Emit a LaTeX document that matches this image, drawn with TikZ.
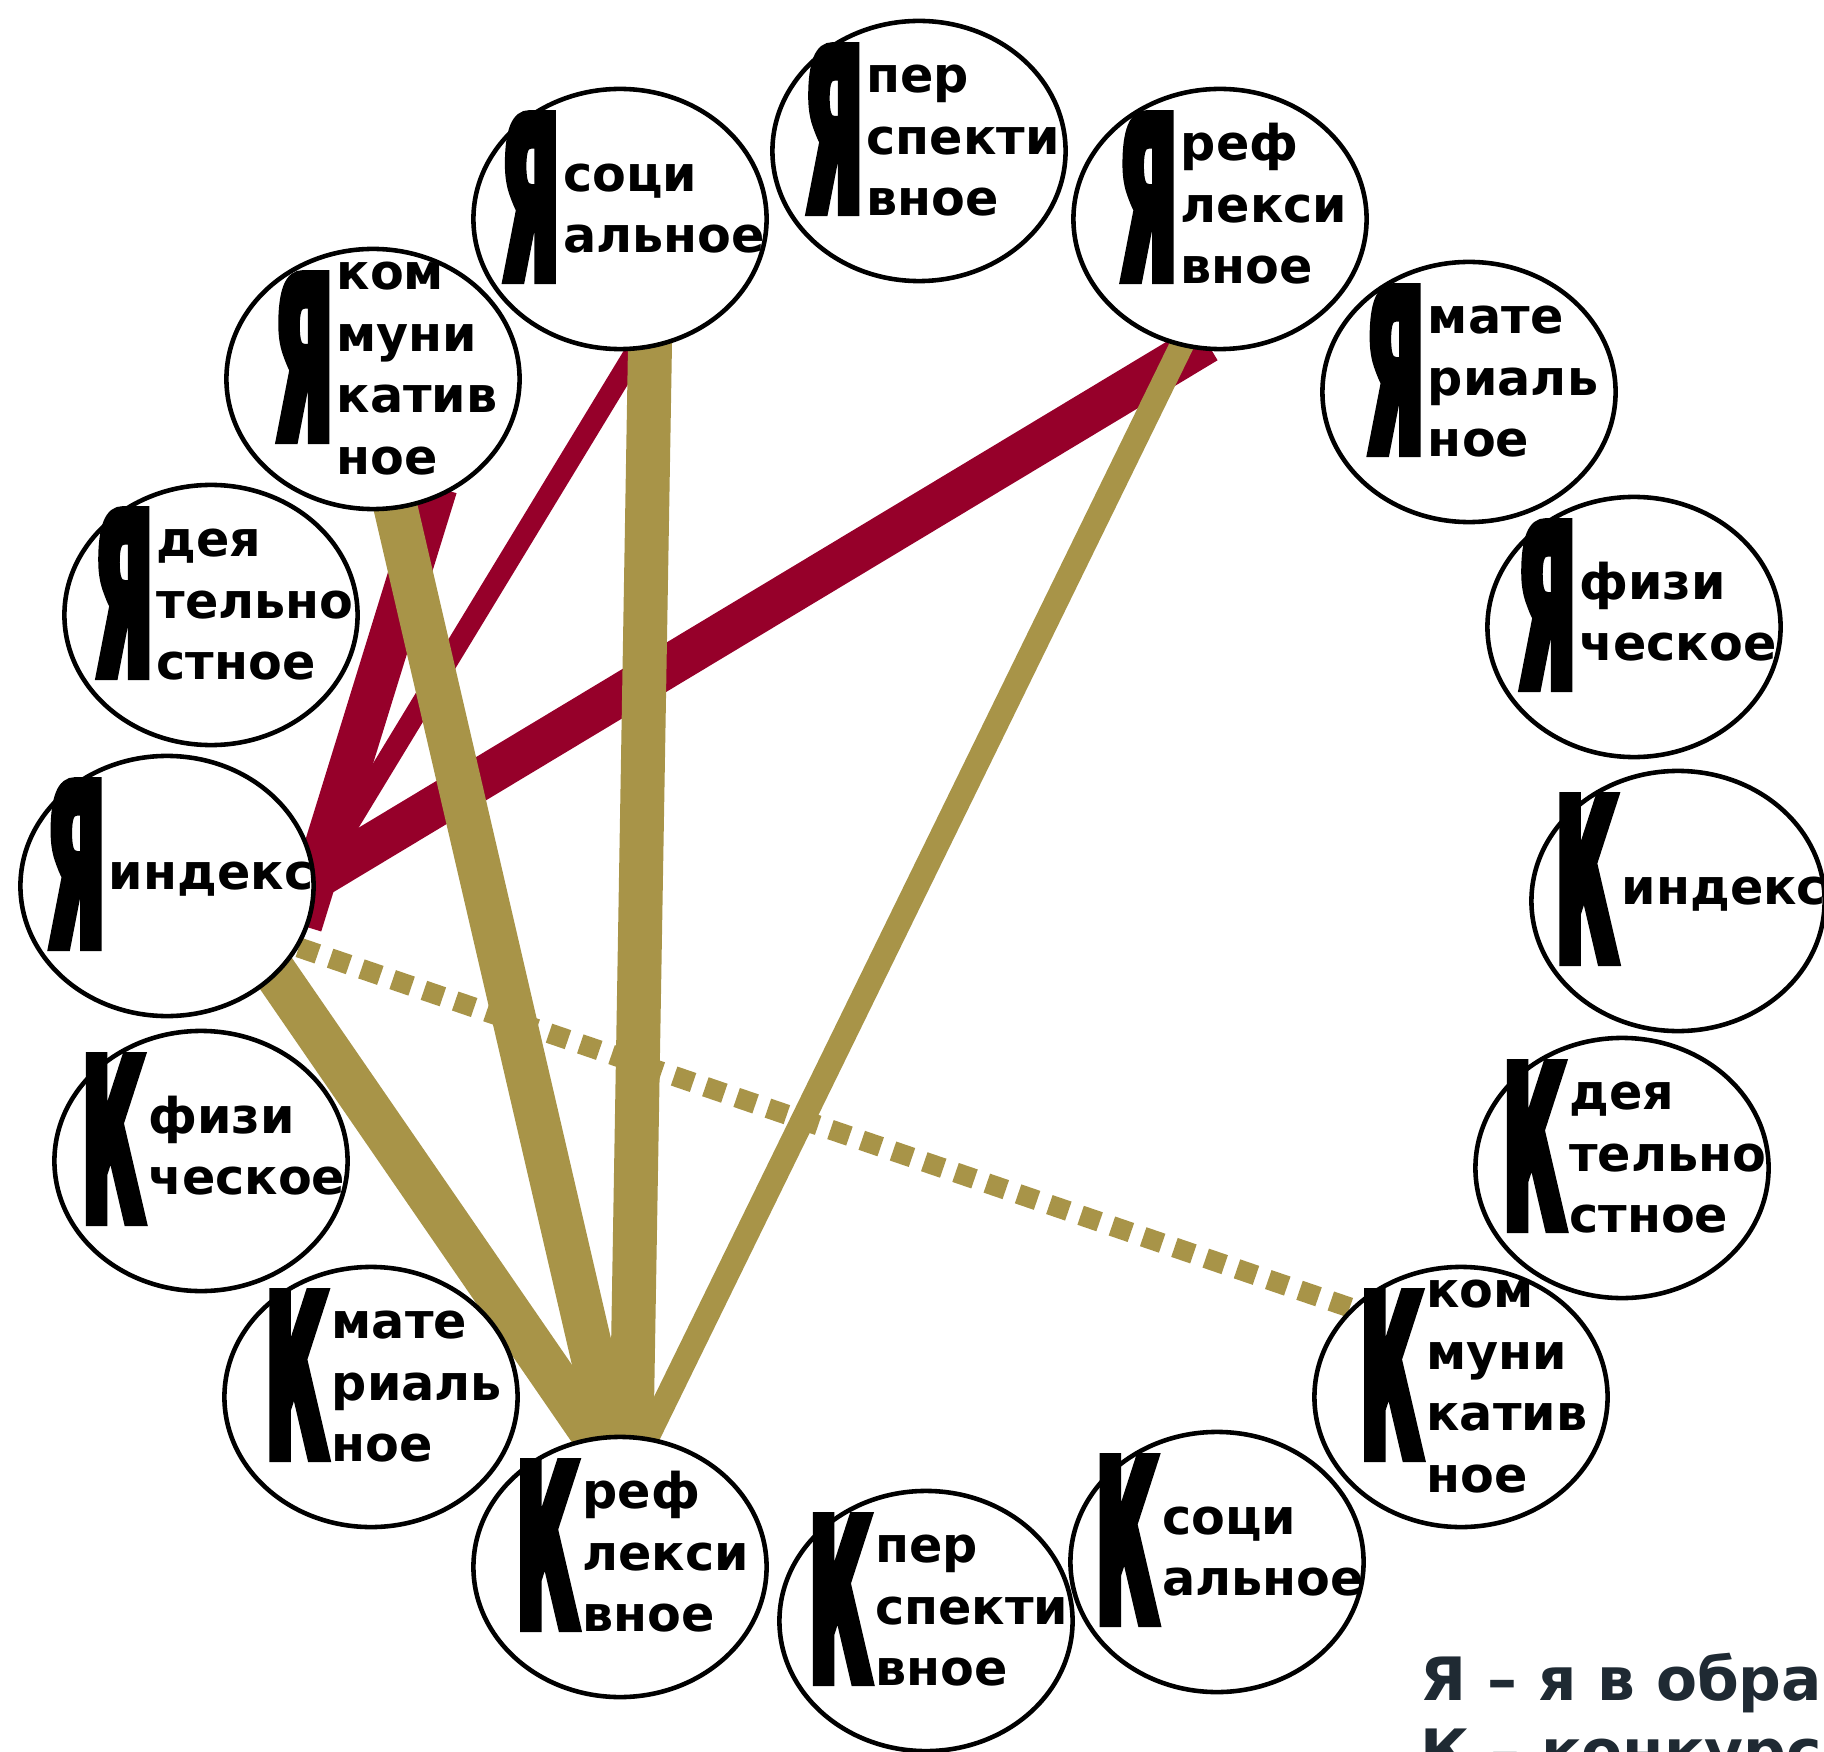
\documentclass[tikz,border=0pt]{standalone}
\usepackage{fontspec}
\setmainfont{DejaVu Sans}
\newfontfamily\capfont[FakeStretch=0.33,FakeBold=3.2]{DejaVu Sans Bold}
\usetikzlibrary{shapes.geometric,backgrounds}

\definecolor{wine}{HTML}{96002A}
\definecolor{ochre}{HTML}{A89448}
\definecolor{keyink}{HTML}{1F2A33}

% big letter + short lines, zero size so the ellipse keeps its size
\newcommand{\facet}[2]{%
  \makebox[0pt]{\smash{\hspace*{2.6mm}%
    \begin{tabular}{@{}c@{}}{\capfont\fontsize{65}{65}\selectfont #1}\end{tabular}%
    \hspace{0.4mm}%
    \raisebox{-1pt}{\begin{tabular}{@{}l@{}}#2\end{tabular}}}}}

\begin{document}
\begin{tikzpicture}[x=0.01cm,y=-0.01cm,line cap=butt]
    \tikzset{
      aspect/.style={
        ellipse,
        draw,
        fill=white,
        line width=1.3pt,
        minimum width=2.93cm,
        minimum height=2.6cm,
        inner sep=0pt,
        font=\bfseries\fontsize{14}{17.5}\selectfont
      },
      tie/.style={
        shorten <=-14pt,
        shorten >=-14pt
      },
      wideRed/.style={draw=wine, line width=12pt, shorten <=-14pt, shorten >=-4pt},
      thinRed/.style={draw=wine, line width=6pt, shorten <=-14pt, shorten >=-4pt},
      wideGold/.style={tie, draw=ochre, line width=12.5pt},
      thinGold/.style={tie, draw=ochre, line width=6.8pt},
      dotGold/.style={draw=ochre, line width=5.7pt, dash pattern=on 5.7pt off 3.7pt},
      keytext/.style={
        anchor=base west,
        inner sep=0pt,
        text=keyink,
        font=\bfseries\fontsize{17}{20}\selectfont
      }
    }
    \useasboundingbox (0,0) rectangle (1824,1752);
    \clip (0,0) rectangle (1824,1752);

    % Self aspects
    \node [aspect] (yPersp)  at (919,151)  {\facet{Я}{пер\\спекти\\вное}};
    \node [aspect] (ySocial) at (620,219)  {\facet{Я}{соци\\альное}};
    \node [aspect] (yReflex) at (1220,219) {\facet{Я}{реф\\лекси\\вное}};
    \node [aspect] (yComm)   at (373,379)  {\facet{Я}{ком\\муни\\катив\\ное}};
    \node [aspect] (yMater)  at (1469,392) {\facet{Я}{мате\\риаль\\ное}};
    \node [aspect] (yActiv)  at (211,615)  {\facet{Я}{дея\\тельно\\стное}};
    \node [aspect] (yPhys)   at (1634,627) {\facet{Я}{физи\\ческое}};
    \node [aspect] (yIndex)  at (167,886)  {\facet{Я}{индекс}};

    % Rival aspects
    \node [aspect] (kIndex)  at (1678,901)  {\facet{К}{индекс}};
    \node [aspect] (kPhys)   at (201,1161)  {\facet{К}{физи\\ческое}};
    \node [aspect] (kActiv)  at (1622,1168) {\facet{К}{дея\\тельно\\стное}};
    \node [aspect] (kMater)  at (371,1397)  {\facet{К}{мате\\риаль\\ное}};
    \node [aspect] (kComm)   at (1461,1397) {\facet{К}{ком\\муни\\катив\\ное}};
    \node [aspect] (kReflex) at (620,1567)  {\facet{К}{реф\\лекси\\вное}};
    \node [aspect] (kSocial) at (1217,1562) {\facet{К}{соци\\альное}};
    \node [aspect] (kPersp)  at (926,1621)  {\facet{К}{пер\\спекти\\вное}};

    % Key
    \node [keytext] (keyY) at (1420,1700) {Я – я в образ};
    \node [keytext] (keyK) at (1420,1772) {К – конкурс};

    \begin{scope}[on background layer]
    % Red ties
    \path
        (yIndex.3) edge [wideRed] (yComm.-64)
        (yIndex.3) edge [thinRed] (ySocial.-83)
        (yIndex.3) edge [wideRed] (yReflex.-101);

    % Gold ties
    \path
        (yIndex.-39)   edge [wideGold] (kReflex.101)
        (yComm.-80)    edge [wideGold] (kReflex.94)
        (ySocial.-77)  edge [wideGold] (kReflex.85)
        (yReflex.-107) edge [thinGold] (kReflex.78)
        (yIndex.-25)   edge [dotGold]  (kComm.141);
    \end{scope}
\end{tikzpicture}
\end{document}
